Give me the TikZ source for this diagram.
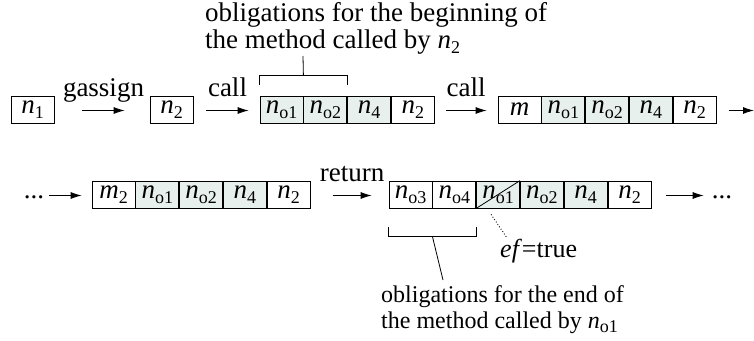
\documentclass[tikz,border=0pt]{standalone}
\usepackage{fontspec}
\setmainfont{Liberation Serif}
\usetikzlibrary{arrows.meta}
\definecolor{shade}{RGB}{232,240,238}
\newcommand{\sbx}[1]{\raisebox{-0.2em}{\fontsize{18}{18}\selectfont #1}}
\newcommand{\nn}[1]{\textit{n}\sbx{#1}}
\begin{document}
\begin{tikzpicture}[x=1pt,y=-1pt,
  font=\fontsize{27}{27}\selectfont,
  cell/.style={draw, line width=0.8pt, minimum width=43pt, minimum height=27pt, inner sep=0pt},
  sh/.style={cell, fill=shade},
  arr/.style={-{Latex[length=11pt,width=7pt]}, line width=0.8pt},
  lab/.style={midway, anchor=base, inner sep=0pt, yshift=14pt},
  ln/.style={line width=0.8pt},
  note/.style={anchor=north west, align=left, inner sep=0pt}]
\useasboundingbox (0,0) rectangle (754,340);
% row 1
\node[cell] (n1) at (32.5,109.5) {\nn{1}};
\node[cell] (n2) at (171.5,109.5) {\nn{2}};
\node[sh] (a1) at (281.5,109.5) {\nn{o1}};
\node[sh,anchor=west] (a2) at (a1.east) {\nn{o2}};
\node[sh,anchor=west] (a3) at (a2.east) {\nn{4}};
\node[cell,anchor=west] (a4) at (a3.east) {\nn{2}};
\node[cell] (m1) at (519.5,109.5) {\textit{m}};
\node[sh,anchor=west] (m2) at (m1.east) {\nn{o1}};
\node[sh,anchor=west] (m3) at (m2.east) {\nn{o2}};
\node[sh,anchor=west] (m4) at (m3.east) {\nn{4}};
\node[cell,anchor=west] (m5) at (m4.east) {\nn{2}};
\coordinate (endA) at (754,110.5);
\draw[arr] ([xshift=28pt,yshift=-1pt]n1.east) -- node[lab]{gassign} ([xshift=-25pt,yshift=-1pt]n2.west);
\draw[arr] ([xshift=13pt,yshift=-1pt]n2.east) -- node[lab]{call} ([xshift=-11pt,yshift=-1pt]a1.west);
\draw[arr] ([xshift=11pt,yshift=-1pt]a4.east) -- node[lab]{call} ([xshift=-11pt,yshift=-1pt]m1.west);
\draw[arr] ([xshift=12pt,yshift=-1pt]m5.east) -- (endA);
% bracket 1
\draw[ln] ([yshift=11pt]a1.north west) -- ([yshift=20pt]a1.north west) -- ([yshift=20pt]a2.north east) -- ([yshift=11pt]a2.north east);
\coordinate (t1) at (303,56);
\draw[ln] ([yshift=20pt]a1.north east) -- (t1);
\node[note] (o1) at (205,2) {obligations for the beginning of\\the method called by \nn{2}};
% row 2
\node[anchor=base, inner sep=0pt] (d1) at (34,198) {...};
\node[cell] (b1) at (113.5,194.5) {\textit{m}\sbx{2}};
\node[sh,anchor=west] (b2) at (b1.east) {\nn{o1}};
\node[sh,anchor=west] (b3) at (b2.east) {\nn{o2}};
\node[sh,anchor=west] (b4) at (b3.east) {\nn{4}};
\node[cell,anchor=west] (b5) at (b4.east) {\nn{2}};
\node[cell] (c1) at (410.5,194.5) {\nn{o3}};
\node[cell,anchor=west] (c2) at (c1.east) {\nn{o4}};
\node[sh,anchor=west] (c3) at (c2.east) {\nn{o1}};
\node[sh,anchor=west] (c4) at (c3.east) {\nn{o2}};
\node[sh,anchor=west] (c5) at (c4.east) {\nn{4}};
\node[cell,anchor=west] (c6) at (c5.east) {\nn{2}};
\node[anchor=base, inner sep=0pt] (d2) at (722,198) {...};
\draw[ln] (c3.south west) -- (c3.north east);
\draw[arr] ([xshift=5pt,yshift=-1pt]d1.east |- b1.west) -- ([xshift=-10pt,yshift=-1pt]b1.west);
\draw[arr] ([xshift=22pt,yshift=-1pt]b5.east) -- node[lab]{return} ([xshift=-17pt,yshift=-1pt]c1.west);
\draw[arr] ([xshift=15pt,yshift=-1pt]c6.east) -- ([xshift=-8pt,yshift=-1pt]d2.west |- c6.east);
% bracket 2
\draw[ln] ([yshift=-19pt]c1.south west) -- ([yshift=-28pt]c1.south west) -- ([yshift=-28pt]c2.south east) -- ([yshift=-19pt]c2.south east);
\coordinate (t2) at (443,280);
\draw[ln] ([yshift=-28pt]c1.south east) -- (t2);
\node[note, font=\fontsize{24}{26}\selectfont] (o2) at (381,285) {obligations for the end of\\the method called by \nn{o1}};
% ef
\node[anchor=base west, inner sep=0pt, font=\fontsize{26}{26}\selectfont] (ef) at (500,257) {\textit{ef}=true};
\coordinate (e1) at (507,238);
\draw[dotted, line width=0.9pt] ([xshift=-7pt,yshift=-6pt]c3.south) -- (e1);
\end{tikzpicture}
\end{document}
